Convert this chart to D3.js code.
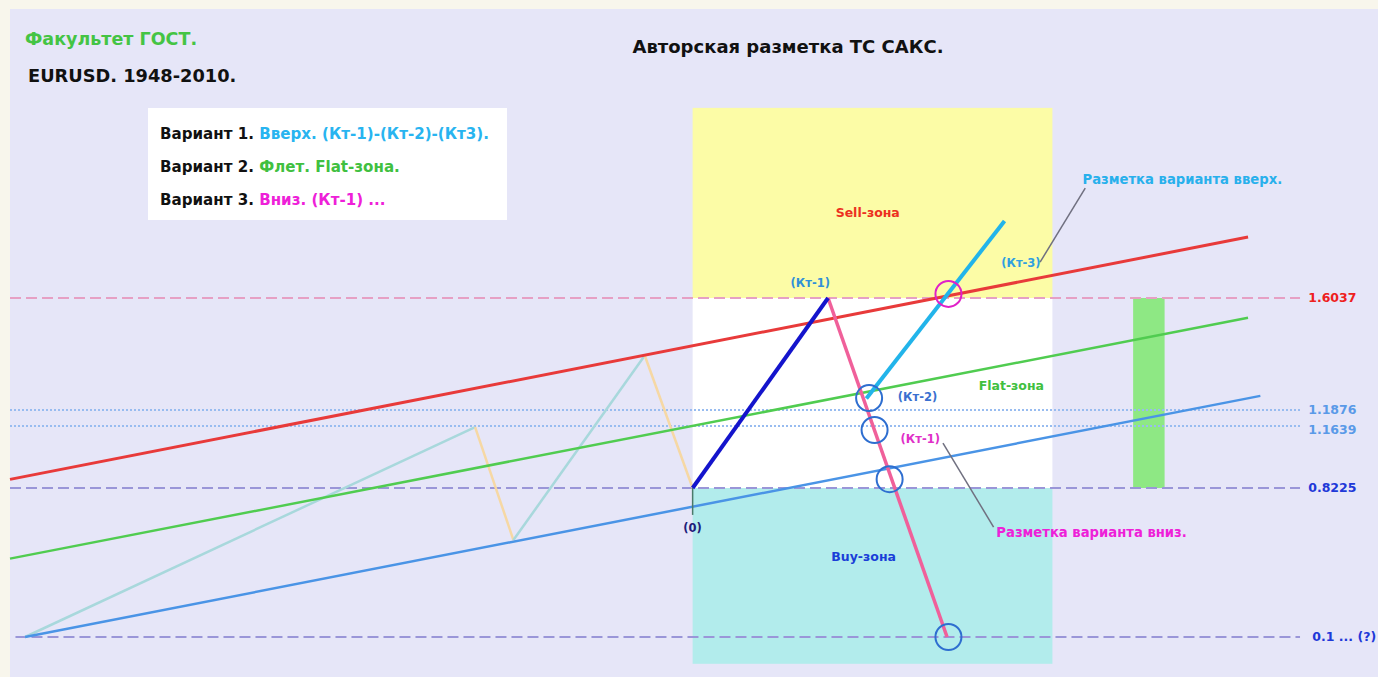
<!DOCTYPE html>
<html>
<head>
<meta charset="utf-8">
<script src="https://cdn.jsdelivr.net/npm/d3@7"></script>
<style>
  body { margin: 0; background: #f8f6ec; }
  text { font-family: "DejaVu Sans", Verdana, sans-serif; font-weight: bold; }
</style>
</head>
<body>
<div id="chart-Div"></div>
<script>

let width = 1378, height = 677;

// price levels (right hand labels)
const levelValues = [1.6037, 1.1876, 1.1639, 0.8225, 0.1];
const levelLabels = ['1.6037', '1.1876', '1.1639', '0.8225', '0.1 ... (?)'];
const levelKinds = ['top', 'dot', 'dot', 'base', 'base'];

// zones
const zoneNames = ['Sell-зона', 'Flat-зона', 'Buy-зона'];
const zoneTop = [2.31, 1.6037, 0.8225];
const zoneBottom = [1.6037, 0.8225, -0.03];
const zoneStart = 49.9, zoneEnd = 76.2;
const zoneLabelT = [62.7, 73.2, 62.4];
const zoneLabelP = [1.919, 1.277, 0.488];

// channel lines
const channelNames = ['red', 'green', 'blue'];
const channelT0 = [0, 0, 1.1];
const channelP0 = [0.87, 0.48, 0.1];
const channelT1 = [90.5, 90.5, 91.4];
const channelP1 = [1.83, 1.53, 1.24];

// history zigzag
const historyT = [1.1, 34.0, 36.8, 46.4, 49.9];
const historyP = [0.1, 1.158, 0.57, 1.39, 0.8225];

// wave marking
const waveUpT = [49.9, 59.8];
const waveUpP = [0.8225, 1.6037];
const waveDownT = [59.8, 68.5];
const waveDownP = [1.6037, 0.1];
const variantUpT = [62.6, 72.7];
const variantUpP = [1.23, 1.89];

// circles
const circleT = [62.8, 63.2, 64.3, 68.6, 68.6];
const circleP = [1.232, 1.142, 0.871, 0.1, 1.619];
const circleKind = ['blue', 'blue', 'blue', 'blue', 'magenta'];

// flat bar
const flatBarT = [82.1, 84.4];
const flatBarP = [0.8225, 1.6037];

// point labels
const pointLabels = ['(Кт-1)', '(Кт-3)', '(Кт-2)', '(Кт-1)', '(0)'];
const pointLabelT = [58.5, 73.9, 64.9, 65.1, 49.9];
const pointLabelP = [1.659, 1.734, 1.236, 1.092, 0.628];

// notes with leader lines
const noteTexts = ['Разметка варианта вверх.', 'Разметка варианта вниз.'];
const noteT = [78.4, 72.1];
const noteP = [2.042, 0.604];
const leaderT0 = [78.6, 68.2];
const leaderP0 = [2.012, 1.070];
const leaderT1 = [75.3, 71.9];
const leaderP1 = [1.737, 0.633];

// legend
const legendHeads = ['Вариант 1.', 'Вариант 2.', 'Вариант 3.'];
const legendTexts = ['Вверх. (Кт-1)-(Кт-2)-(Кт3).', 'Флет. Flat-зона.', 'Вниз. (Кт-1) ...'];

let svg = d3.select('#chart-Div')
    .append('svg')
    .attr('width', width)
    .attr('height', height);

let xScale = d3.scaleLinear()
    .domain([0, 100])
    .range([10, 1378]);
// hand drawn price axis, not uniform between levels
let yScale = d3.scaleLinear()
    .domain([0.1, 0.8225, 1.1639, 1.1876, 1.6037])
    .range([637, 488, 426, 410, 298]);

const styles = {
    zoneFill: ['#fcfca6', '#ffffff', '#b2ecec'],
    zoneText: ['#ec3020', '#40c040', '#1a3ed8'],
    channel: ['#e83a3a', '#50cc50', '#4a94e6'],
    levelText: ['#ee2020', '#5a9ae8', '#5a9ae8', '#2038d8', '#2038d8'],
    pointText: ['#3090d8', '#30a0e0', '#3a70d0', '#e030c8', '#20207a'],
    legendText: ['#28b4f0', '#40c040', '#ee20d8']
};

// panel
svg.append('rect')
    .attr('x', 10).attr('y', 9)
    .attr('width', width - 10).attr('height', height - 9)
    .attr('fill', '#e6e6f8');

// zones
svg.selectAll('.zone')
    .data(zoneNames)
    .join('rect')
    .attr('x', xScale(zoneStart))
    .attr('y', (d, i) => yScale(zoneTop[i]))
    .attr('width', xScale(zoneEnd) - xScale(zoneStart))
    .attr('height', (d, i) => yScale(zoneBottom[i]) - yScale(zoneTop[i]))
    .attr('fill', (d, i) => styles.zoneFill[i]);

// flat bar
svg.append('rect')
    .attr('x', xScale(flatBarT[0]))
    .attr('y', yScale(flatBarP[1]))
    .attr('width', xScale(flatBarT[1]) - xScale(flatBarT[0]))
    .attr('height', yScale(flatBarP[0]) - yScale(flatBarP[1]))
    .attr('fill', '#8ee884');

// level lines
svg.selectAll('.level')
    .data(levelValues)
    .join('line')
    .attr('x1', (d, i) => xScale(i === 4 ? 0.4 : 0))
    .attr('x2', xScale(94.3))
    .attr('y1', d => yScale(d))
    .attr('y2', d => yScale(d))
    .attr('stroke', (d, i) => levelKinds[i] === 'top' ? '#e6a0c4' : (levelKinds[i] === 'dot' ? '#98bcf0' : '#9a96d8'))
    .attr('stroke-width', 2)
    .attr('stroke-dasharray', (d, i) => levelKinds[i] === 'dot' ? '2,2' : '11,5');

svg.selectAll('.levelLabel')
    .data(levelLabels)
    .join('text')
    .attr('x', (d, i) => xScale(i === 4 ? 95.2 : 94.9))
    .attr('y', (d, i) => yScale(levelValues[i]) + (i === 2 ? 8 : 4))
    .attr('font-size', 12.5)
    .attr('fill', (d, i) => styles.levelText[i])
    .text(d => d);

let lineGen = d3.line()
    .x(d => xScale(d[0]))
    .y(d => yScale(d[1]));

// history zigzag
for (let i = 0; i < historyT.length - 1; i++) {
    svg.append('path')
        .attr('d', lineGen([[historyT[i], historyP[i]], [historyT[i + 1], historyP[i + 1]]]))
        .attr('stroke', historyP[i + 1] > historyP[i] ? '#a8d8dc' : '#f6d8a4')
        .attr('stroke-width', 2.5)
        .attr('fill', 'none');
}

// channel
svg.selectAll('.channel')
    .data(channelNames)
    .join('path')
    .attr('d', (d, i) => lineGen([[channelT0[i], channelP0[i]], [channelT1[i], channelP1[i]]]))
    .attr('stroke', (d, i) => styles.channel[i])
    .attr('stroke-width', (d, i) => i === 0 ? 3 : 2.5)
    .attr('fill', 'none');

// (0) tick
svg.append('path')
    .attr('d', lineGen([[49.9, 0.8225], [49.9, 0.692]]))
    .attr('stroke', '#4a7a6a')
    .attr('stroke-width', 1.5);

// leader lines
svg.selectAll('.leader')
    .data(noteTexts)
    .join('path')
    .attr('d', (d, i) => lineGen([[leaderT0[i], leaderP0[i]], [leaderT1[i], leaderP1[i]]]))
    .attr('stroke', '#707080')
    .attr('stroke-width', 1.5);

// wave lines
svg.append('path')
    .attr('d', lineGen(waveDownT.map((t, i) => [t, waveDownP[i]])))
    .attr('stroke', '#f0609a')
    .attr('stroke-width', 3.5)
    .attr('fill', 'none');
svg.append('path')
    .attr('d', lineGen(waveUpT.map((t, i) => [t, waveUpP[i]])))
    .attr('stroke', '#1414cc')
    .attr('stroke-width', 4)
    .attr('fill', 'none');
svg.append('path')
    .attr('d', lineGen(variantUpT.map((t, i) => [t, variantUpP[i]])))
    .attr('stroke', '#22b4ea')
    .attr('stroke-width', 4)
    .attr('fill', 'none');

// circles
svg.selectAll('.mark')
    .data(circleT)
    .join('circle')
    .attr('cx', d => xScale(d))
    .attr('cy', (d, i) => yScale(circleP[i]))
    .attr('r', 13)
    .attr('fill', 'none')
    .attr('stroke', (d, i) => circleKind[i] === 'blue' ? '#2e6ed0' : '#e020c8')
    .attr('stroke-width', 2);

// zone labels
svg.selectAll('.zoneLabel')
    .data(zoneNames)
    .join('text')
    .attr('x', (d, i) => xScale(zoneLabelT[i]))
    .attr('y', (d, i) => yScale(zoneLabelP[i]) + 4)
    .attr('text-anchor', 'middle')
    .attr('font-size', 12.5)
    .attr('fill', (d, i) => styles.zoneText[i])
    .text(d => d);

// point labels
svg.selectAll('.pointLabel')
    .data(pointLabels)
    .join('text')
    .attr('x', (d, i) => xScale(pointLabelT[i]))
    .attr('y', (d, i) => yScale(pointLabelP[i]) + 4)
    .attr('text-anchor', (d, i) => (i === 2 || i === 3) ? 'start' : 'middle')
    .attr('font-size', 11.5)
    .attr('fill', (d, i) => styles.pointText[i])
    .text(d => d);

// notes
svg.selectAll('.note')
    .data(noteTexts)
    .join('text')
    .attr('x', (d, i) => xScale(noteT[i]))
    .attr('y', (d, i) => yScale(noteP[i]) + 4)
    .attr('font-size', 13.2)
    .attr('fill', (d, i) => i === 0 ? '#28b0ec' : '#ee20d8')
    .text(d => d);

// titles
svg.append('text')
    .attr('x', 25).attr('y', 45)
    .attr('font-size', 17.5)
    .attr('fill', '#44c444')
    .text('Факультет ГОСТ.');
svg.append('text')
    .attr('x', 28).attr('y', 82)
    .attr('font-size', 17.8)
    .attr('fill', '#111')
    .text('EURUSD. 1948-2010.');
svg.append('text')
    .attr('x', 788).attr('y', 53)
    .attr('text-anchor', 'middle')
    .attr('font-size', 18)
    .attr('fill', '#111')
    .text('Авторская разметка ТС САКС.');

// legend box
svg.append('rect')
    .attr('x', 148).attr('y', 108)
    .attr('width', 359).attr('height', 112)
    .attr('fill', '#ffffff');

let legend = svg.selectAll('.legendRow')
    .data(legendHeads)
    .join('text')
    .attr('x', 160)
    .attr('y', (d, i) => 139 + i * 33)
    .attr('font-size', 15.1);
legend.append('tspan')
    .attr('fill', '#111')
    .text(d => d + ' ');
legend.append('tspan')
    .attr('fill', (d, i) => styles.legendText[i])
    .text((d, i) => legendTexts[i]);

</script>
</body>
</html>
